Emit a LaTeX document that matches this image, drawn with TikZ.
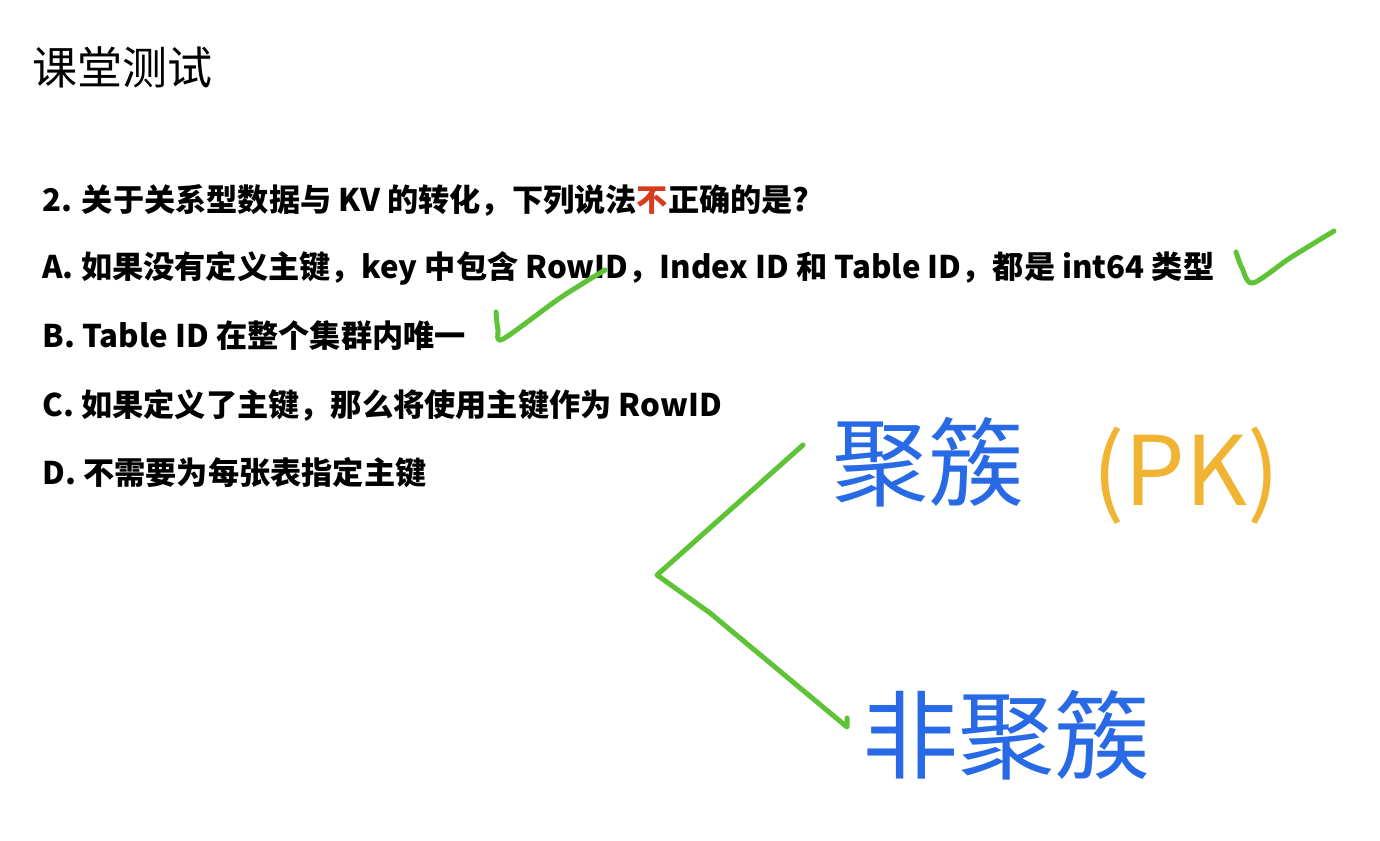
\documentclass[tikz,border=0pt]{standalone}
\usepackage{fontspec}
\setmainfont{Noto Sans CJK SC}
\definecolor{markgreen}{RGB}{95,195,55}
\definecolor{handblue}{RGB}{40,105,230}
\definecolor{pkorange}{RGB}{240,180,50}
\definecolor{notred}{RGB}{215,60,30}
\begin{document}
\begin{tikzpicture}[x=0.5pt,y=-0.5pt,
  item/.style={anchor=west,inner sep=0pt,font=\bfseries\fontsize{15.6}{18}\selectfont},
  ink/.style={line width=2.5pt,line cap=round,line join=round,color=markgreen},
  hand/.style={anchor=west,inner sep=0pt,text=handblue,font=\fontsize{48}{54}\selectfont}]
\useasboundingbox (0,0) rectangle (1380,840);
\node (title) at (32,67) [anchor=west,inner sep=0pt,font=\fontsize{22.5}{26}\selectfont] {课堂测试};
% question and answers
\node[item] (q) at (42,200) {2. 关于关系型数据与 KV 的转化，下列说法{\color{notred}不}正确的是?};
\node[item] (a) at (42,268) {A. 如果没有定义主键，key 中包含 RowID，Index ID 和 Table ID，都是 int64 类型};
\node[item] (b) at (42,336) {B. Table ID 在整个集群内唯一};
\node[item] (c) at (42,405) {C. 如果定义了主键，那么将使用主键作为 RowID};
\node[item] (d) at (42,473) {D. 不需要为每张表指定主键};
% handwritten notes
\node[hand] (jucu) at (832,462) {聚簇};
\node[hand,text=pkorange] (pk) at (1092,476) {(PK)};
\node[hand] (feijucu) at (862,735) {非聚簇};
% ticks
\draw[ink] plot[smooth] coordinates {(1236,252) (1242,268) (1253,283) (1290,258) (1334,231)};
\draw[ink] plot[smooth] coordinates {(496,312) (498,330) (503,339) (560,298) (605,270)};
% bracket
\coordinate (upper) at (803,445);
\coordinate (fork) at (657,575);
\coordinate (lower) at (847,727);
\draw[ink] (upper) -- (fork) -- (710,613) -- (lower) -- ++(0,-9);
\end{tikzpicture}
\end{document}
